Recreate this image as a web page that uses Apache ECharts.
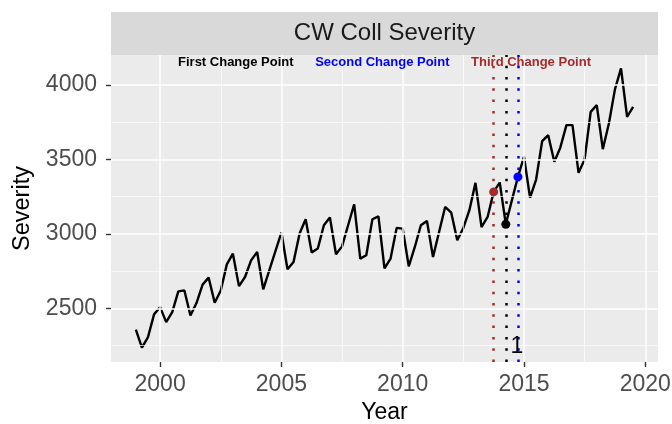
<!DOCTYPE html>
<html><head><meta charset="utf-8">
<script src="https://cdn.jsdelivr.net/npm/echarts@6/dist/echarts.min.js"></script>
<style>html,body{margin:0;padding:0;background:#fff}#c{width:672px;height:424px}</style>
</head><body><div id="c"></div>
<script>
const quarters = [1999,1999.25,1999.5,1999.75,2000,2000.25,2000.5,2000.75,2001,2001.25,2001.5,2001.75,
  2002,2002.25,2002.5,2002.75,2003,2003.25,2003.5,2003.75,2004,2004.25,2004.5,2004.75,
  2005,2005.25,2005.5,2005.75,2006,2006.25,2006.5,2006.75,2007,2007.25,2007.5,2007.75,
  2008,2008.25,2008.5,2008.75,2009,2009.25,2009.5,2009.75,2010,2010.25,2010.5,2010.75,
  2011,2011.25,2011.5,2011.75,2012,2012.25,2012.5,2012.75,2013,2013.25,2013.5,2013.75,
  2014,2014.25,2014.5,2014.75,2015,2015.25,2015.5,2015.75,2016,2016.25,2016.5,2016.75,
  2017,2017.25,2017.5,2017.75,2018,2018.25,2018.5,2018.75,2019,2019.25,2019.5];
const severity = [2356,2235,2306,2459,2508,2407,2474,2614,2620,2452,2535,2659,
  2706,2537,2620,2795,2867,2649,2710,2822,2878,2627,2755,2883,
  3009,2762,2811,3002,3098,2874,2901,3058,3110,2863,2916,3058,
  3199,2834,2856,3098,3118,2768,2834,3040,3035,2782,2912,3058,
  3087,2845,3013,3181,3143,2957,3040,3159,3343,3046,3114,3282,
  3345,3065,3225,3383,3518,3244,3365,3623,3663,3484,3581,3731,
  3731,3410,3500,3820,3865,3569,3742,3971,4112,3787,3854];
const xTicks = [2000,2005,2010,2015,2020];
const xMinor = [2002.5,2007.5,2012.5,2017.5];
const yTicks = [2500,3000,3500,4000];
const yMinor = [2250,2750,3250,3750];
const changeNames = ['First Change Point','Second Change Point','Third Change Point'];
const changeX = [2014.25,2014.75,2013.75];
const changeY = [3065,3383,3282];
const changeColors = ['#000000','#0000FF','#A52A2A'];
const labelX = [2003.12,2009.16,2015.29];
const labelY = 4150;
const countLabel = {text:'1', x:2014.71, y:2245};

const FONT = 'Liberation Sans, Arial, sans-serif';
const chart = echarts.init(document.getElementById('c'), null, {renderer:'canvas'});

const gridLines = [];
xTicks.forEach(v => gridLines.push({xAxis:v, lineStyle:{color:'#fff', width:1.5, type:'solid'}}));
xMinor.forEach(v => gridLines.push({xAxis:v, lineStyle:{color:'#fff', width:0.7, type:'solid'}}));
yTicks.forEach(v => gridLines.push({yAxis:v, lineStyle:{color:'#fff', width:1.5, type:'solid'}}));
yMinor.forEach(v => gridLines.push({yAxis:v, lineStyle:{color:'#fff', width:0.7, type:'solid'}}));

const changeLines = changeX.map((v,i) => ({xAxis:v, lineStyle:{color:changeColors[i], width:2.5, type:[2.5,8.8], cap:'butt', opacity:1}}));
const plain = v => String(v);

chart.setOption({
  animation:false,
  grid:{left:111, right:14, top:55, bottom:62, show:true, backgroundColor:'#EBEBEB', borderWidth:0,
    containLabel:false, outerBoundsMode:'none'},
  graphic:[
    {type:'rect', left:111, top:12, shape:{width:547, height:43}, style:{fill:'#D9D9D9'}},
    {type:'text', x:111+547/2, y:33.5, style:{text:'CW Coll Severity', fill:'#1A1A1A', font:'24px '+FONT, textAlign:'center', textVerticalAlign:'middle'}}
  ],
  xAxis:{type:'value', min:1997.975, max:2020.525,
    axisLine:{show:false}, splitLine:{show:false},
    axisTick:{show:true, customValues:xTicks, length:5, lineStyle:{color:'#333', width:1.4}},
    axisLabel:{customValues:xTicks, formatter:plain, color:'#4D4D4D', fontSize:23, fontFamily:FONT, margin:11},
    name:'Year', nameLocation:'middle', nameGap:38, nameTextStyle:{color:'#000', fontSize:23, fontFamily:FONT}},
  yAxis:{type:'value', min:2139, max:4202,
    axisLine:{show:false}, splitLine:{show:false},
    axisTick:{show:true, customValues:yTicks, length:5, lineStyle:{color:'#333', width:1.4}},
    axisLabel:{customValues:yTicks, formatter:plain, color:'#4D4D4D', fontSize:23, fontFamily:FONT, margin:14},
    name:'Severity', nameLocation:'middle', nameGap:75, nameRotate:90, nameTextStyle:{color:'#000', fontSize:23.5, fontFamily:FONT}},
  series:[
    {type:'line', data:[], z:1, silent:true,
      markLine:{silent:true, symbol:['none','none'], label:{show:false}, animation:false, data:gridLines}},
    {type:'line', data:quarters.map((q,i)=>[q, severity[i]]), showSymbol:false, z:3,
      lineStyle:{color:'#000', width:2.4}, itemStyle:{color:'#000'}},
    {type:'line', data:[], z:4, silent:true,
      markLine:{silent:true, symbol:['none','none'], label:{show:false}, animation:false, data:changeLines}},
    {type:'scatter', z:5, symbolSize:9,
      data:changeX.map((v,i)=>({value:[v, changeY[i]], itemStyle:{color:changeColors[i], opacity:1}}))},
    {type:'scatter', z:6, symbolSize:0, silent:true, itemStyle:{opacity:1},
      data:changeNames.map((n,i)=>({name:n, value:[labelX[i], labelY],
        label:{show:true, position:'inside', formatter:n, color:changeColors[i], fontSize:13, fontWeight:'bold', fontFamily:FONT}}))},
    {type:'scatter', z:6, symbolSize:0, silent:true, itemStyle:{opacity:1},
      data:[{name:countLabel.text, value:[countLabel.x, countLabel.y],
        label:{show:true, position:'inside', formatter:countLabel.text, color:'#000', fontSize:23, fontFamily:FONT}}]}
  ]
});
</script></body></html>
